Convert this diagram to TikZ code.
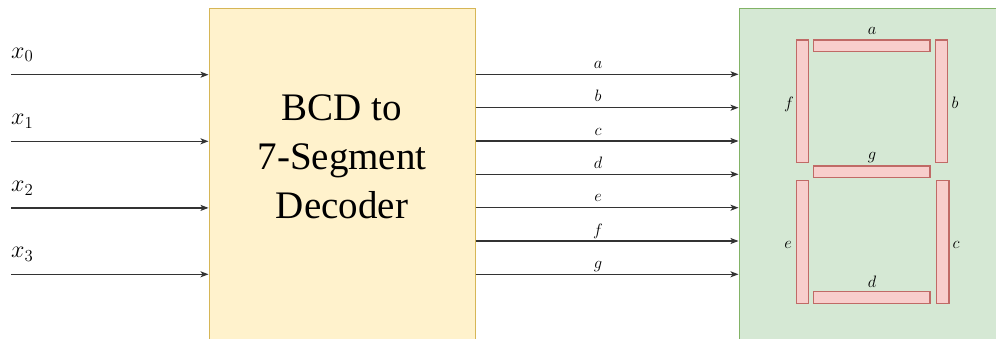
\RequirePackage{fix-cm}
\documentclass[tikz,border=0pt]{standalone}
\usepackage{fontspec}
\setmainfont{Liberation Serif}
\usetikzlibrary{arrows.meta}
\definecolor{decfill}{HTML}{FFF2CC}
\definecolor{decline}{HTML}{D6B656}
\definecolor{dispfill}{HTML}{D5E8D4}
\definecolor{displine}{HTML}{82B366}
\definecolor{segfill}{HTML}{F8CECC}
\definecolor{segline}{HTML}{C06A66}
\definecolor{wire}{HTML}{333333}
\begin{document}
\begin{tikzpicture}[x=1pt,y=-1pt,
  wirearrow/.style={draw=wire, line width=1.2pt, -{Stealth[length=8pt,width=6pt,inset=2pt]}},
  block/.style={rectangle, inner sep=0pt, line width=1pt},
  seg/.style={fill=segfill, draw=segline, line width=1.2pt},
  inlabel/.style={anchor=base west, inner sep=0pt, font=\fontsize{24}{28}\selectfont},
  outlabel/.style={anchor=base, inner sep=0pt, font=\fontsize{16.5}{19}\selectfont},
  seglabel/.style={anchor=base, inner sep=0pt, font=\fontsize{16.5}{19}\selectfont}]
\useasboundingbox (0,0) rectangle (996,338);
\clip (0,0) rectangle (996,338);
\fill[white] (0,0) rectangle (996,338);

% decoder block and display panel
\node[block, fill=decfill, draw=decline, minimum width=266pt, minimum height=332pt] (dec) at (342,174) {};
\node[block, fill=dispfill, draw=displine, minimum width=261pt, minimum height=332pt] (disp) at (869.5,174) {};
\node[inner sep=0pt, align=center, font=\fontsize{39}{49}\selectfont] (title) at (342,157) {BCD to\\7-Segment\\Decoder};

% inputs
\foreach \i/\yy in {0/74.7,1/141.3,2/207.9,3/274.3}{
  \coordinate (in\i) at (11,\yy);
  \draw[wirearrow] (in\i) -- (in\i -| dec.west);
  \node[inlabel] (lx\i) at (11,\yy-16.4) {$x_{\i}$};
}

% outputs to the display
\foreach \s/\yy in {a/74.3,b/107.7,c/141,d/174.3,e/207.7,f/241,g/274.3}{
  \coordinate (out\s) at (dec.east |- 0,\yy);
  \draw[wirearrow] (out\s) -- (out\s -| disp.west);
  \node[outlabel] (lo\s) at (598,\yy-6) {$\s$};
}

% seven segments
\draw[seg] (813.3,40) rectangle (930,51.7);
\draw[seg] (935.3,40) rectangle (947.7,162.7);
\draw[seg] (936.7,180.3) rectangle (949,303.3);
\draw[seg] (813.3,291.7) rectangle (930,303.3);
\draw[seg] (796.3,180.3) rectangle (808.7,303.3);
\draw[seg] (796.3,40) rectangle (808.7,162.7);
\draw[seg] (813.3,166) rectangle (930,177.7);

\node[seglabel] (sla) at (872,34.5) {$a$};
\node[seglabel] (slb) at (955,108.3) {$b$};
\node[seglabel] (slc) at (956,248.3) {$c$};
\node[seglabel] (sld) at (872,287.3) {$d$};
\node[seglabel] (sle) at (788,248.3) {$e$};
\node[seglabel] (slf) at (789,108.3) {$f$};
\node[seglabel] (slg) at (872,159.3) {$g$};
\end{tikzpicture}
\end{document}
